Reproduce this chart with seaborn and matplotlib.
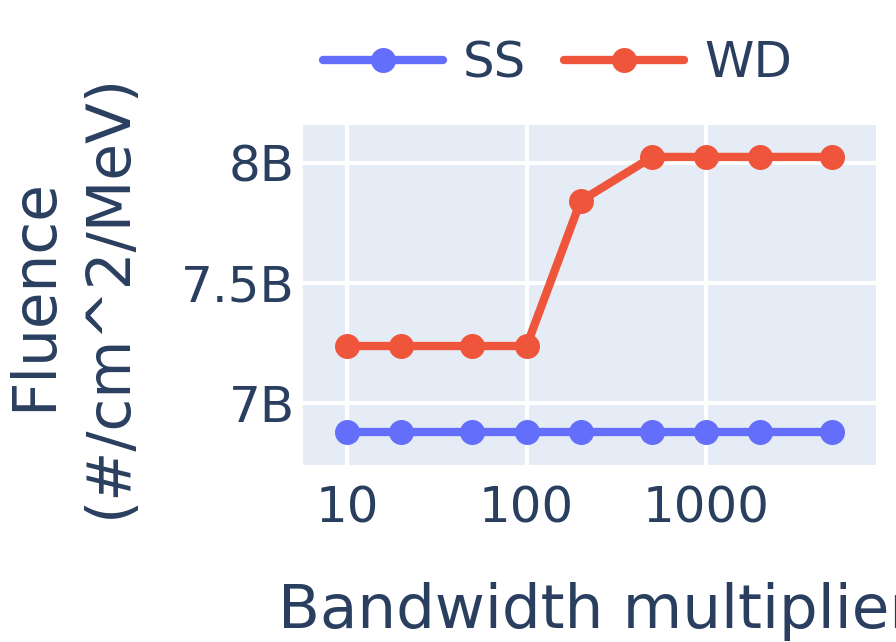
import numpy as np
import pandas as pd
import matplotlib
matplotlib.use("Agg")
import matplotlib.pyplot as plt
import seaborn as sns
from matplotlib.lines import Line2D
from matplotlib.ticker import FixedLocator, NullLocator

multipliers = [10, 20, 50, 100, 200, 500, 1000, 2000, 5000]
ss_values = [6.879e9, 6.879e9, 6.879e9, 6.879e9, 6.879e9, 6.879e9, 6.879e9, 6.879e9, 6.879e9]
wd_values = [7.2375e9, 7.2375e9, 7.2375e9, 7.2375e9, 7.842e9, 8.025e9, 8.025e9, 8.025e9, 8.025e9]
series_names = ["SS", "WD"]
colors = ["#636efa", "#EF553B"]
y_ticks = [7e9, 7.5e9, 8e9]
y_tick_labels = ["7B", "7.5B", "8B"]
x_ticks = [10, 100, 1000]
x_tick_labels = ["10", "100", "1000"]

df = pd.DataFrame({
    "x": multipliers * 2,
    "y": ss_values + wd_values,
    "series": ["SS"] * len(multipliers) + ["WD"] * len(multipliers),
})

text_color = "#2a3f5f"
sns.set_theme(style="white")
plt.rcParams["font.family"] = ["DejaVu Sans"]

fig = plt.figure(figsize=(8.96, 6.42), dpi=100)
ax = fig.add_axes([303 / 896, 1 - 465 / 642, (876 - 303) / 896, (465 - 125) / 642])
ax.set_facecolor("#E5ECF6")

sns.lineplot(data=df, x="x", y="y", hue="series", hue_order=series_names,
             palette=colors, marker="o", markersize=18, markeredgewidth=0,
             linewidth=6, ax=ax, legend=False, zorder=3)

ax.set_xscale("log")
ax.set_xlim(10 ** 0.756, 10 ** 3.944)
ax.set_ylim(6.742e9, 8.158e9)
ax.xaxis.set_major_locator(FixedLocator(x_ticks))
ax.xaxis.set_minor_locator(NullLocator())
ax.set_xticklabels(x_tick_labels)
ax.set_yticks(y_ticks)
ax.set_yticklabels(y_tick_labels)
ax.grid(True, color="white", linewidth=3, zorder=0)
ax.set_axisbelow(True)
for s in ax.spines.values():
    s.set_visible(False)
ax.tick_params(axis="both", length=0, labelsize=36, labelcolor=text_color)
ax.tick_params(axis="x", pad=14)
ax.tick_params(axis="y", pad=6)
ax.set_xlabel("")
ax.set_ylabel("")

fig.text(72 / 896, 1 - 295 / 642, "Fluence\n(#/cm^2/MeV)", rotation=90,
         ha="center", va="center", fontsize=43, color=text_color,
         linespacing=1.36, multialignment="center")
fig.text(278 / 896, 1 - 628 / 642, "Bandwidth multiplier", ha="left",
         va="baseline", fontsize=44, color=text_color)

handles = [Line2D([0], [0], color=c, linewidth=6, marker="o", markersize=18,
                  markeredgewidth=0) for c in colors]
leg = fig.legend(handles, series_names, loc="center left",
                 bbox_to_anchor=(323 / 896, 1 - 63 / 642), ncol=2, frameon=False,
                 fontsize=36, handlelength=2.4, handletextpad=0.4,
                 columnspacing=0.76, borderpad=0, borderaxespad=0)
for t in leg.get_texts():
    t.set_color(text_color)

fig.savefig("out.png", dpi=100)
